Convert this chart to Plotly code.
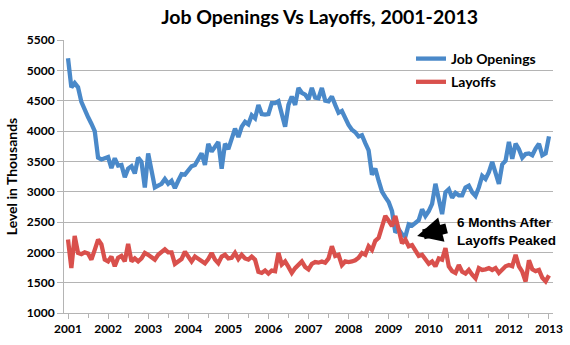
import plotly.graph_objects as go

# Monthly JOLTS levels (thousands), Jan 2001 .. Jan 2013
years = list(range(2001, 2014))
months = [y + m / 12 for y in range(2001, 2013) for m in range(12)] + [2013.0]

job_openings = [
    # 2001
    5200, 4720, 4790, 4720, 4480, 4340, 4230, 4120, 4000, 3560, 3530, 3550,
    # 2002
    3570, 3390, 3550, 3430, 3440, 3240, 3380, 3420, 3300, 3560, 3490, 3070,
    # 2003
    3630, 3350, 3070, 3100, 3130, 3210, 3130, 3180, 3060, 3180, 3290, 3280,
    # 2004
    3350, 3420, 3440, 3540, 3630, 3440, 3790, 3660, 3750, 3820, 3380, 3790,
    # 2005
    3700, 3870, 4040, 3900, 4070, 4150, 4110, 4260, 4210, 4430, 4280, 4270,
    # 2006
    4280, 4460, 4460, 4490, 4290, 4070, 4430, 4570, 4430, 4710, 4630, 4600,
    # 2007
    4520, 4710, 4550, 4540, 4710, 4500, 4490, 4570, 4430, 4300, 4330, 4200,
    # 2008
    4100, 4020, 3980, 3910, 3930, 3800, 3680, 3280, 3380, 3180, 3000, 2910,
    # 2009
    2830, 2680, 2330, 2380, 2300, 2260, 2460, 2440, 2480, 2530, 2710, 2600,
    # 2010
    2680, 2800, 3130, 2850, 2630, 2990, 3040, 2900, 2980, 2940, 2940, 3070,
    # 2011
    3100, 2990, 2930, 3070, 3260, 3210, 3320, 3490, 3300, 3130, 3450, 3510,
    # 2012
    3820, 3540, 3790, 3700, 3560, 3620, 3630, 3600, 3710, 3790, 3600, 3630,
    # 2013
    3910,
]

layoffs = [
    # 2001
    2210, 1740, 2270, 1990, 1970, 2000, 1980, 1880, 2040, 2210, 2130, 1880,
    # 2002
    1850, 1930, 1770, 1910, 1940, 1850, 2140, 1850, 1900, 1850, 1900, 1990,
    # 2003
    1960, 1910, 1880, 1960, 2000, 2050, 2000, 2000, 1810, 1860, 1890, 2010,
    # 2004
    1930, 1850, 1930, 1900, 1850, 1820, 1890, 1990, 1880, 1820, 1930, 1960,
    # 2005
    1900, 1910, 1990, 1890, 1960, 1900, 1880, 1930, 1880, 1680, 1660, 1700,
    # 2006
    1650, 1700, 1690, 1990, 1800, 1850, 1760, 1660, 1740, 1800, 1850, 1760,
    # 2007
    1720, 1810, 1840, 1830, 1850, 1830, 1900, 2100, 1940, 1960, 1790, 1850,
    # 2008
    1840, 1850, 1870, 1910, 1990, 1960, 2100, 2040, 2190, 2240, 2430, 2600,
    # 2009
    2520, 2430, 2600, 2380, 2150, 2210, 2100, 2120, 2020, 1940, 1960, 1870,
    # 2010
    1810, 1850, 1770, 1900, 1880, 2070, 1770, 1690, 1660, 1790, 1680, 1650,
    # 2011
    1710, 1630, 1570, 1740, 1710, 1720, 1740, 1710, 1740, 1660, 1710, 1770,
    # 2012
    1790, 1770, 1960, 1770, 1680, 1520, 1870, 1720, 1690, 1710, 1580, 1520,
    # 2013
    1620,
]

series_names = ["Job Openings", "Layoffs"]
series_colors = ["#4a89c9", "#d9504c"]

callout_text = "6 Months After<br>Layoffs Peaked"
callout_x, callout_y = 2009.71, 2270  # point the arrow lands on

font_main = "Lato, 'Open Sans', sans-serif"
grid_col = "#b4b4b4"

fig = go.Figure()
for name, vals, col in zip(series_names, [job_openings, layoffs], series_colors):
    fig.add_trace(go.Scatter(
        x=months, y=vals, mode="lines", name=name, legendgroup=name,
        line=dict(color=col, width=4.3, shape="linear"),
    ))

fig.update_layout(
    width=570, height=345,
    margin=dict(l=64, r=17, t=40, b=32, autoexpand=False),
    paper_bgcolor="white", plot_bgcolor="white",
    font=dict(family=font_main, color="black"),
    title=dict(
        text="<b>Job Openings Vs Layoffs, 2001-2013</b>",
        font=dict(size=19.5, family=font_main, color="black"),
        x=298 / 570, xref="paper", xanchor="center",
        y=1 - 17 / 345, yref="container", yanchor="middle",
    ),
    showlegend=True,
    legend=dict(
        x=(411 - 64) / 489, y=1 - (43 - 40) / 273, xanchor="left", yanchor="top",
        font=dict(size=14, family=font_main, color="black", weight="bold"),
        bgcolor="rgba(0,0,0,0)", itemwidth=30, traceorder="grouped",
        tracegroupgap=2,
    ),
    xaxis=dict(
        range=[2000.9, 2013.1], tickmode="linear", tick0=2001, dtick=1,
        tickformat="d", showgrid=False, zeroline=False,
        showline=True, linecolor=grid_col, linewidth=1,
        ticks="outside", ticklen=5, tickcolor=grid_col, tickwidth=1,
        tickfont=dict(size=12, family=font_main, color="black", weight="bold"),
        minor=dict(dtick=0.5, tick0=2001, ticks="outside", ticklen=4,
                   tickcolor=grid_col, showgrid=False),
    ),
    yaxis=dict(
        range=[1000, 5500], tickmode="linear", tick0=1000, dtick=500,
        tickformat="d", showgrid=True, gridcolor=grid_col, gridwidth=1,
        zeroline=False, showline=True, linecolor=grid_col, linewidth=1,
        ticks="outside", ticklen=6, tickcolor=grid_col,
        tickfont=dict(size=12, family=font_main, color="black", weight="bold"),
        title=dict(text="<b>Level in Thousands</b>", standoff=5,
                   font=dict(size=14, family=font_main, color="black")),
    ),
)

# block arrow pointing at the job-openings trough
fig.add_annotation(
    x=callout_x, y=callout_y, xref="x", yref="y",
    ax=31, ay=-8, axref="pixel", ayref="pixel",
    text="", showarrow=True, arrowhead=2, arrowsize=0.5,
    arrowwidth=10, arrowcolor="black", standoff=0,
)
fig.add_annotation(
    x=2010.655, y=2340, xref="x", yref="y", xanchor="left", yanchor="middle",
    text="<b>" + callout_text + "</b>", showarrow=False, align="left",
    font=dict(size=13.5, family="'Liberation Sans', Arial, sans-serif", color="black"),
)

fig.write_html("out.html")
